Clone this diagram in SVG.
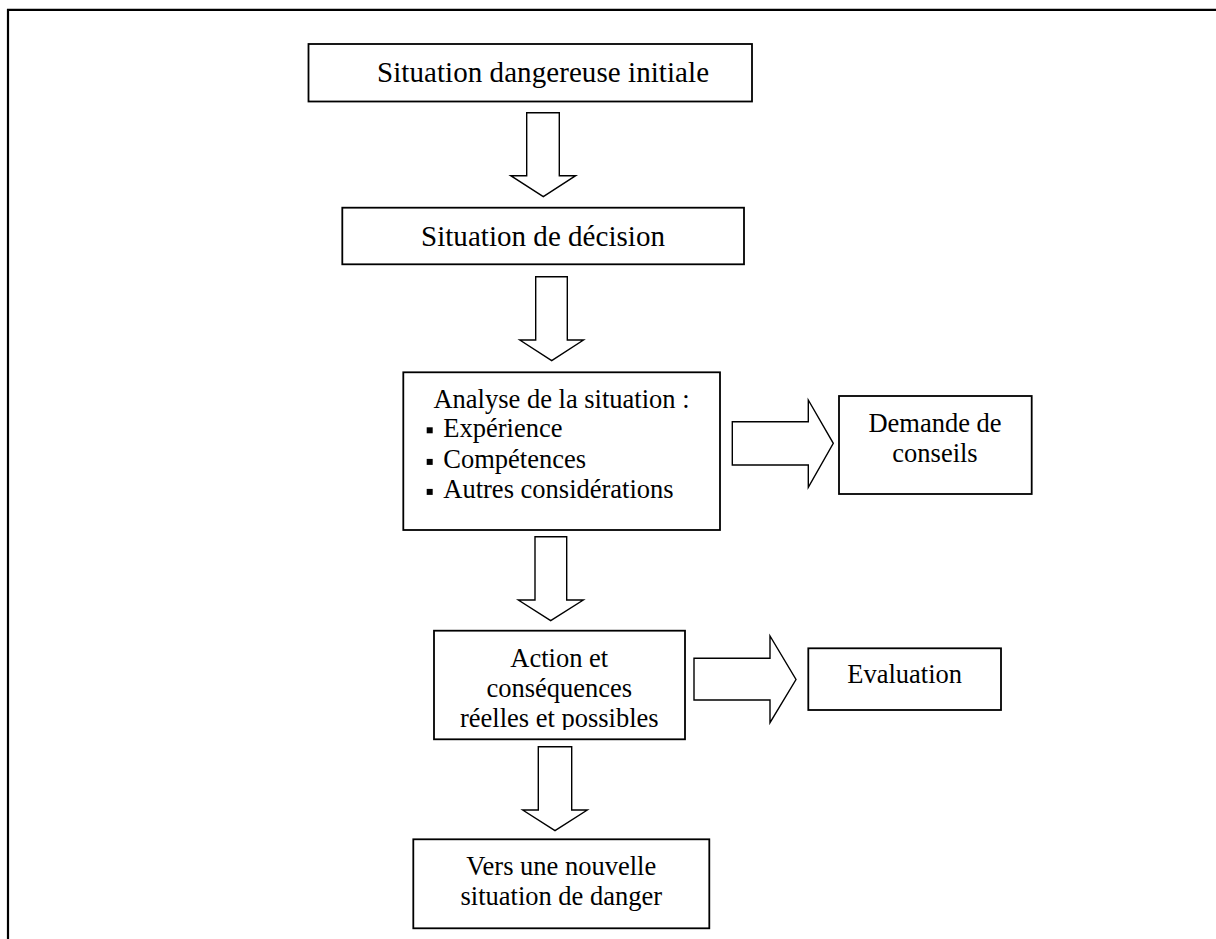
<svg xmlns="http://www.w3.org/2000/svg" width="1216" height="939" viewBox="0 0 1216 939">
<style>
.box{fill:#fff;stroke:#000;stroke-width:1.8}
.arr{fill:#fff;stroke:#000;stroke-width:1.4;stroke-linejoin:miter}
text{font-family:"Liberation Serif","Times New Roman",serif;fill:#000}
.big{font-size:29px}
.med{font-size:26.5px}
.c{text-anchor:middle}
</style>
<defs>
<clipPath id="clip4"><rect x="434" y="630" width="251" height="100"/></clipPath>
</defs>
<rect width="1216" height="939" fill="#fff"/>
<path d="M8 939 V9.8 H1216" fill="none" stroke="#000" stroke-width="2.2"/>
<g id="connectors">
<path class="arr" d="M526.7 112.7 H559.3 V175.7 H575.7 L543.3 196.7 L510.7 175.7 H526.7 Z"/>
<path class="arr" d="M535.7 276.7 H567.3 V340 H583.5 L551.7 360.7 L519.8 340 H535.7 Z"/>
<path class="arr" d="M732.3 421.7 H808.3 V400 L833.3 443.3 L808.3 487.3 V465 H732.3 Z"/>
<path class="arr" d="M535 536.7 H566.7 V600 H583.3 L550.7 620.7 L518.3 600 H535 Z"/>
<path class="arr" d="M694 658.3 H770 V636 L796 679.5 L770 722.7 V700 H694 Z"/>
<path class="arr" d="M538.3 746.7 H571.7 V810 H587.3 L555 830.7 L522.7 810 H538.3 Z"/>
</g>
<g id="n1">
<rect class="box" x="308.5" y="44" width="443.5" height="57.5"/>
<text class="big c" x="543" y="81.7" textLength="332">Situation dangereuse initiale</text>
</g>
<g id="n2">
<rect class="box" x="342.3" y="207.7" width="401.7" height="56.6"/>
<text class="big c" x="543" y="245.7" textLength="244">Situation de décision</text>
</g>
<g id="n3">
<rect class="box" x="403.3" y="372.3" width="316.7" height="157.7"/>
<text class="med c" x="561.5" y="408">Analyse de la situation :</text>
<rect x="426.7" y="427.3" width="6" height="6"/>
<rect x="426.7" y="458.9" width="6" height="6"/>
<rect x="426.7" y="488.9" width="6" height="6"/>
<text class="med" x="443.3" y="436.7">Expérience</text>
<text class="med" x="443.3" y="468.3">Compétences</text>
<text class="med" x="443.3" y="498.3">Autres considérations</text>
</g>
<g id="n4">
<rect class="box" x="434" y="630.7" width="251" height="108.6"/>
<g clip-path="url(#clip4)">
<text class="med c" x="559.3" y="666.7">Action et</text>
<text class="med c" x="559.3" y="696.7">conséquences</text>
<text class="med c" x="559.3" y="726.7">réelles et possibles</text>
</g>
</g>
<g id="n5">
<rect class="box" x="839" y="396" width="192.7" height="98"/>
<text class="med c" x="935" y="431.7">Demande de</text>
<text class="med c" x="935" y="461.7">conseils</text>
</g>
<g id="n6">
<rect class="box" x="808.3" y="648.3" width="192.7" height="61.7"/>
<text class="med c" x="904.7" y="683.3">Evaluation</text>
</g>
<g id="n7">
<rect class="box" x="413.3" y="839.3" width="296" height="89"/>
<text class="med c" x="561.3" y="875">Vers une nouvelle</text>
<text class="med c" x="561.3" y="905">situation de danger</text>
</g>
</svg>
